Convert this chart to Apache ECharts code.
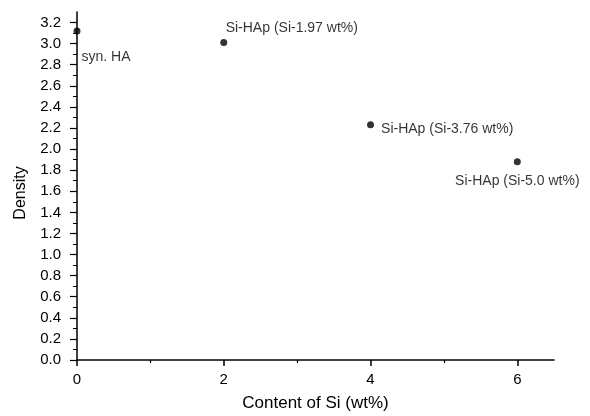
<!DOCTYPE html>
<html><head><meta charset="utf-8">
<script src="https://cdn.jsdelivr.net/npm/echarts@6/dist/echarts.min.js"></script>
<style>html,body{margin:0;padding:0;background:#fff}#c{width:590px;height:416px}</style>
</head><body><div id="c"></div>
<script>
const siContent = [0, 2, 4, 6];
const density = [3.12, 3.01, 2.23, 1.88];
const pointLabels = ['syn. HA', 'Si-HAp (Si-1.97 wt%)', 'Si-HAp (Si-3.76 wt%)', 'Si-HAp (Si-5.0 wt%)'];
const yTickLabels = [0,0.2,0.4,0.6,0.8,1.0,1.2,1.4,1.6,1.8,2.0,2.2,2.4,2.6,2.8,3.0,3.2];
const xTickLabels = [0, 2, 4, 6];

const labelStyles = [
  {position: 'right', offset: [-4, 26]},
  {position: 'top', offset: [68, 1]},
  {position: 'right', offset: [2, 4]},
  {position: 'bottom', offset: [0, 4]}
];
const font = 'Liberation Sans, Arial, sans-serif';
const chart = echarts.init(document.getElementById('c'));
const yMinor = [];
for (let i = 1; i <= 32; i += 2) yMinor.push(i / 10);
chart.setOption({
  animation: false,
  grid: {left: 77, right: 36, top: 12, bottom: 56, containLabel: false, outerBoundsMode: 'none'},
  xAxis: [{
    type: 'value', min: 0, max: 6.5,
    name: 'Content of Si (wt%)', nameLocation: 'middle', nameGap: 35,
    nameTextStyle: {fontFamily: font, fontSize: 17, color: '#000'},
    axisLine: {show: true, lineStyle: {color: '#000', width: 1.5}},
    axisTick: {show: true, inside: false, length: 6, customValues: xTickLabels, lineStyle: {color: '#000', width: 1.5}},
    axisLabel: {customValues: xTickLabels, fontFamily: font, fontSize: 15, color: '#000', margin: 12},
    splitLine: {show: false}
  }, {
    type: 'value', min: 0, max: 6.5, position: 'bottom',
    axisLine: {show: false},
    axisTick: {show: true, length: 3, customValues: [1, 3, 5], lineStyle: {color: '#000', width: 1.2}},
    axisLabel: {show: false}, splitLine: {show: false}
  }],
  yAxis: [{
    type: 'value', min: 0, max: 3.3,
    name: 'Density', nameLocation: 'middle', nameGap: 48,
    nameTextStyle: {fontFamily: font, fontSize: 16, color: '#000', padding: [0, 14, 0, 0]},
    axisLine: {show: true, lineStyle: {color: '#000', width: 1.5}},
    axisTick: {show: true, length: 7, customValues: yTickLabels, lineStyle: {color: '#000', width: 1.2}},
    axisLabel: {customValues: yTickLabels, formatter: v => v.toFixed(1), fontFamily: font, fontSize: 15, color: '#000', margin: 16},
    splitLine: {show: false}
  }, {
    type: 'value', min: 0, max: 3.3, position: 'left',
    axisLine: {show: false},
    axisTick: {show: true, length: 4, customValues: yMinor, lineStyle: {color: '#000', width: 1}},
    axisLabel: {show: false}, splitLine: {show: false}
  }],
  series: [{
    type: 'scatter', xAxisIndex: 0, yAxisIndex: 0,
    symbolSize: 7, itemStyle: {color: '#000'},
    clip: false,
    data: siContent.map((x, i) => ({
      value: [x, density[i]],
      label: Object.assign({show: true, formatter: pointLabels[i], fontFamily: font, fontSize: 14, color: '#000'}, labelStyles[i])
    }))
  }]
});
</script></body></html>
